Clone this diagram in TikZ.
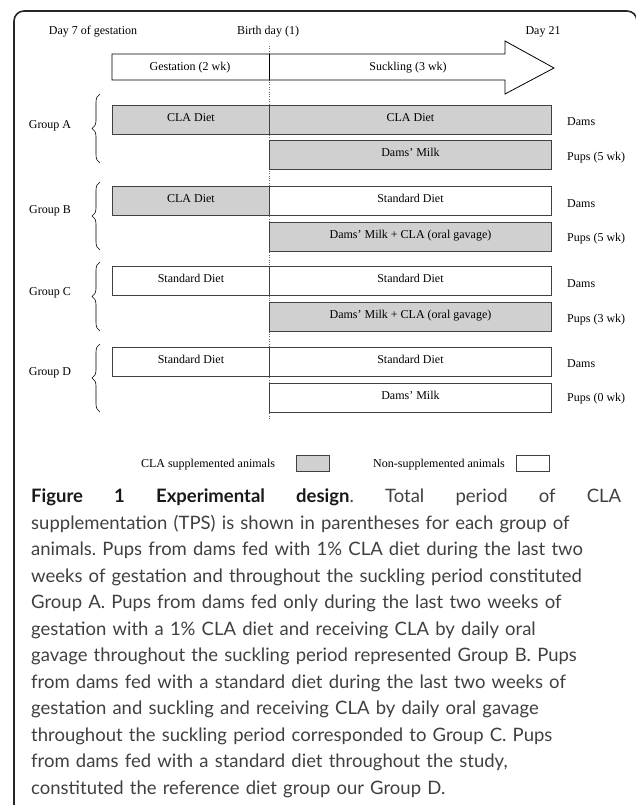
\documentclass[tikz,border=0pt]{standalone}
\usepackage{fontspec}
\setmainfont{Liberation Serif}
\newfontfamily\capfont{Lato}
\usetikzlibrary{decorations.pathreplacing}
\definecolor{clagray}{RGB}{208,208,208}
\definecolor{captext}{RGB}{64,64,64}
\tikzset{
  bar/.style={draw=black!75, line width=0.9pt, minimum height=29pt, inner sep=0pt, anchor=north west,
              text height=8pt, text depth=5pt, font=\fontsize{12}{14}\selectfont},
  clabar/.style={bar, fill=clagray},
  stdbar/.style={bar, fill=white},
  gestw/.style={minimum width=157pt},
  suckw/.style={minimum width=282pt},
  lbl/.style={font=\fontsize{12}{14}\selectfont, inner sep=0pt},
  grp/.style={decorate, decoration={brace, amplitude=8pt}, line width=0.6pt},
  keybox/.style={draw=black!75, line width=0.9pt, inner sep=0pt, anchor=north west, minimum width=33pt, minimum height=16pt},
}

\begin{document}
\begin{tikzpicture}[x=1pt, y=-1pt]
\useasboundingbox (0,0) rectangle (636,805);
% cadre
\draw[line width=1.6pt, black!85, rounded corners=10pt] (14,815) -- (14,11) -- (637,11) -- (637,815);

% en-tete
\node[lbl] (d7) at (93,32) {Day 7 of gestation};
\node[lbl] (bd) at (268,32) {Birth day (1)};
\node[lbl] (d21) at (543,32) {Day 21};

% ligne de naissance
\coordinate (bt) at (269,46);
\coordinate (bb) at (269,420);
\draw[dotted, black!60] (bt) -- (bb);

% fleche des periodes
\draw[fill=white, line width=0.8pt] (112,54) -- (505,54) -- (505,41) -- (554,68) -- (505,94) -- (505,80) -- (112,80) -- cycle;
\draw[line width=0.8pt] (269,54) -- (269,80);
\node[lbl] (gest) at (190,68) {Gestation (2 wk)};
\node[lbl] (suck) at (408,68) {Suckling (3 wk)};

% Group A
\node[clabar, gestw] (a1) at (112,105) {CLA Diet};
\node[clabar, suckw] (a2) at (269,105) {CLA Diet};
\node[clabar, suckw] (a3) at (269,140) {Dams' Milk};
\node[lbl, anchor=west] (a2l) at (567,122) {Dams};
\node[lbl, anchor=west] (a3l) at (567,158) {Pups (5 wk)};
\node[lbl] (ga) at (50,126) {Group A};
\draw[grp] (100,163) -- (100,94);

% Group B
\node[clabar, gestw] (b1) at (112,186) {CLA Diet};
\node[stdbar, suckw] (b2) at (269,186) {Standard Diet};
\node[clabar, suckw] (b3) at (269,222) {Dams' Milk + CLA (oral gavage)};
\node[lbl, anchor=west] (b2l) at (567,204) {Dams};
\node[lbl, anchor=west] (b3l) at (567,239) {Pups (5 wk)};
\node[lbl] (gb) at (50,211) {Group B};
\draw[grp] (100,250) -- (100,182);

% Group C
\node[stdbar, gestw] (c1) at (112,266) {Standard Diet};
\node[stdbar, suckw] (c2) at (269,266) {Standard Diet};
\node[clabar, suckw] (c3) at (269,302) {Dams' Milk + CLA (oral gavage)};
\node[lbl, anchor=west] (c2l) at (567,284) {Dams};
\node[lbl, anchor=west] (c3l) at (567,320) {Pups (3 wk)};
\node[lbl] (gc) at (50,293) {Group C};
\draw[grp] (100,331) -- (100,262);

% Group D
\node[stdbar, gestw] (d1) at (112,347) {Standard Diet};
\node[stdbar, suckw] (d2) at (269,347) {Standard Diet};
\node[stdbar, suckw] (d3) at (269,383) {Dams' Milk};
\node[lbl, anchor=west] (d2l) at (567,364) {Dams};
\node[lbl, anchor=west] (d3l) at (567,399) {Pups (0 wk)};
\node[lbl] (gd) at (50,373) {Group D};
\draw[grp] (100,412) -- (100,344);

% legende
\node[lbl] (lcla) at (208,465) {CLA supplemented animals};
\node[keybox, fill=clagray] (kcla) at (296,455) {};
\node[lbl] (lstd) at (439,465) {Non-supplemented animals};
\node[keybox, fill=white] (kstd) at (516,455) {};

% legende de la figure
\node[anchor=north west, inner sep=0pt, text width=600pt, align=left, text=captext,
      font=\capfont\fontsize{18.5}{26.5}\selectfont\frenchspacing] (cap) at (31,489) {%
\hbox to 590pt{{\color{black!90}\bfseries Figure\hfill 1\hfill Experimental\hfill design}.\hfill Total\hfill period\hfill of\hfill CLA}\\
supplementation (TPS) is shown in parentheses for each group of\\
animals. Pups from dams fed with 1\% CLA diet during the last two\\
weeks of gestation and throughout the suckling period constituted\\
Group A. Pups from dams fed only during the last two weeks of\\
gestation with a 1\% CLA diet and receiving CLA by daily oral\\
gavage throughout the suckling period represented Group B. Pups\\
from dams fed with a standard diet during the last two weeks of\\
gestation and suckling and receiving CLA by daily oral gavage\\
throughout the suckling period corresponded to Group C. Pups\\
from dams fed with a standard diet throughout the study,\\
constituted the reference diet group our Group D.};
\end{tikzpicture}
\end{document}
